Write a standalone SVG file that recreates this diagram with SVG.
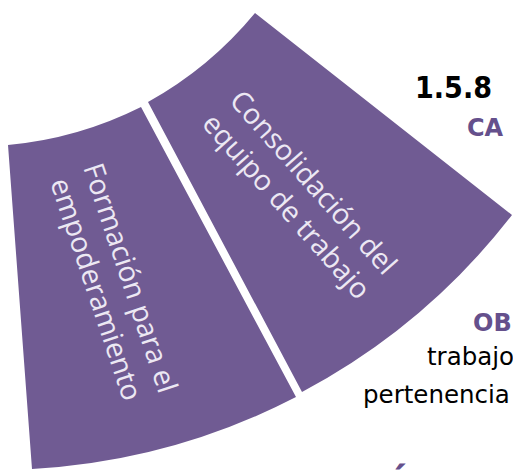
<svg xmlns="http://www.w3.org/2000/svg" width="513" height="470" viewBox="0 0 513 470">
  <style>
    .seg { fill: #705b93; }
    .seglabel { font-family: "Open Sans", "Liberation Sans", sans-serif; font-size: 28.5px; fill: #ece8f3; text-anchor: middle; }
    .head { font-family: "DejaVu Sans", "Liberation Sans", sans-serif; font-weight: bold; fill: #65508c; }
    .body { font-family: "DejaVu Sans", "Liberation Sans", sans-serif; font-size: 24.5px; fill: #000000; }
  </style>
  <rect width="513" height="470" fill="#ffffff"/>
  <g id="segment-formacion">
    <path class="seg" d="M 8 145 A 373 373 0 0 0 141 107 L 296 397 A 653 653 0 0 1 32 469 Z"/>
    <g transform="translate(121,281) rotate(71.5)">
      <text class="seglabel" x="0" y="0">Formación para el</text>
      <text class="seglabel" x="0" y="36">empoderamiento</text>
    </g>
  </g>
  <g id="segment-consolidacion">
    <path class="seg" d="M 148 102 A 373 373 0 0 0 255 13 L 512 215 A 653 653 0 0 1 302 392 Z"/>
    <g transform="translate(306,189) rotate(48.4)">
      <text class="seglabel" x="0" y="0">Consolidación del</text>
      <text class="seglabel" x="0" y="36">equipo de trabajo</text>
    </g>
  </g>
  <g id="connectors"></g>
  <g id="page-text">
    <text x="415" y="98" font-family="DejaVu Sans, Liberation Sans, sans-serif" font-weight="bold" font-size="31" fill="#000000" textLength="77" lengthAdjust="spacingAndGlyphs">1.5.8</text>
    <text class="head" x="467" y="136" font-size="24">CA</text>
    <text class="head" x="473" y="331" font-size="24">OB</text>
    <text class="body" x="427" y="365">trabajo</text>
    <text class="body" x="363" y="403">pertenencia</text>
    <text class="head" x="399" y="505" font-size="44" text-anchor="middle">Á</text>
  </g>
</svg>
